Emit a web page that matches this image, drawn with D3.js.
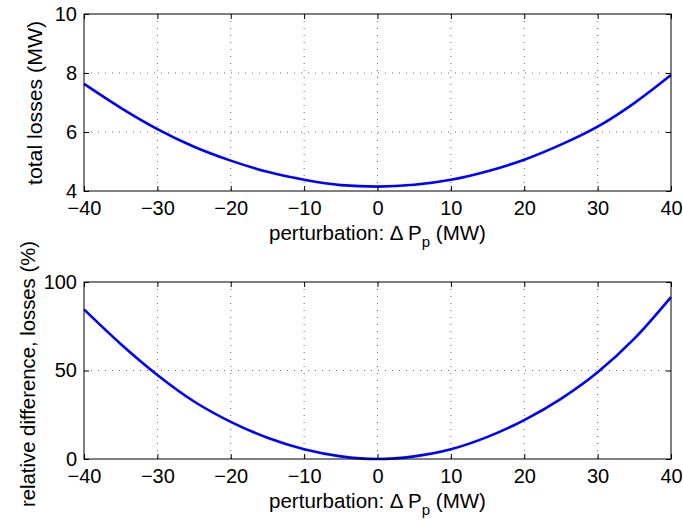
<!DOCTYPE html>
<html>
<head>
<meta charset="UTF-8">
<script src="https://d3js.org/d3.v7.min.js"></script>
<style>
    body { margin: 0; background: #fff; font-family: "Liberation Sans", Arial, sans-serif; }
    .tick text { font-size: 20px; fill: #000; font-family: "Liberation Sans", Arial, sans-serif; }
    .label { font-size: 20.5px; fill: #000; }
</style>
</head>
<body>
<svg id="chart"></svg>
<script>
    // perturbation values (MW)
    const perturbation = [-40, -35, -30, -25, -20, -15, -10, -5, 0, 5, 10, 15, 20, 25, 30, 35, 40];
    // total losses (MW)
    const totalLosses = [7.63, 6.82, 6.10, 5.50, 5.03, 4.65, 4.38, 4.20, 4.15, 4.21, 4.38, 4.67, 5.06, 5.57, 6.18, 6.98, 7.93];
    // relative difference of losses (%)
    const relDiff = [84.5, 65, 47.5, 32.5, 21, 12, 5.5, 1.5, 0, 1.5, 5.5, 12.5, 22, 34, 49, 68, 91.5];

    const xTicks = [-40, -30, -20, -10, 0, 10, 20, 30, 40];
    const topTicks = [4, 6, 8, 10];
    const bottomTicks = [0, 50, 100];

    const W = 683, H = 522;
    const svg = d3.select("#chart").attr("width", W).attr("height", H);

    const left = 84, right = 671;

    // один подграфик
    function panel(top, bottom, yDomain, yTicks, values, yLabel, lab) {
        const x = d3.scaleLinear().domain([-40, 40]).range([left, right]);
        const y = d3.scaleLinear().domain(yDomain).range([bottom, top]);
        const g = svg.append("g");

        // сетка
        g.selectAll(".vgrid")
            .data(xTicks.slice(1, -1))
            .join("line")
            .attr("x1", d => x(d)).attr("x2", d => x(d))
            .attr("y1", top).attr("y2", bottom)
            .attr("stroke", "#444").attr("stroke-width", 0.8)
            .attr("stroke-dasharray", "1,6");
        g.selectAll(".hgrid")
            .data(yTicks.slice(1, -1))
            .join("line")
            .attr("x1", left).attr("x2", right)
            .attr("y1", d => y(d)).attr("y2", d => y(d))
            .attr("stroke", "#444").attr("stroke-width", 0.8)
            .attr("stroke-dasharray", "1,6");

        // кривая
        const line = d3.line()
            .x((d, i) => x(perturbation[i]))
            .y(d => y(d))
            .curve(d3.curveMonotoneX);
        g.append("path")
            .datum(values)
            .attr("d", line)
            .attr("fill", "none")
            .attr("stroke", "#0000ff")
            .attr("stroke-width", 2.6);

        // оси (тики внутрь)
        const tl = 5;
        g.append("g").attr("transform", `translate(0,${bottom})`)
            .call(d3.axisBottom(x).tickValues(xTicks).tickSize(-tl).tickPadding(10).tickFormat(d => d < 0 ? "\u2212" + Math.abs(d) : d))
            .call(a => a.select(".domain").remove());
        g.append("g").attr("transform", `translate(0,${top})`)
            .call(d3.axisTop(x).tickValues(xTicks).tickSize(-tl).tickFormat(""))
            .call(a => a.select(".domain").remove());
        g.append("g").attr("transform", `translate(${left},0)`)
            .call(d3.axisLeft(y).tickValues(yTicks).tickSize(-tl).tickPadding(7).tickFormat(d3.format("d")))
            .call(a => a.select(".domain").remove());
        g.append("g").attr("transform", `translate(${right},0)`)
            .call(d3.axisRight(y).tickValues(yTicks).tickSize(-tl).tickFormat(""))
            .call(a => a.select(".domain").remove());
        g.selectAll(".tick line").attr("stroke", "#000");

        g.append("rect")
            .attr("x", left).attr("y", top)
            .attr("width", right - left).attr("height", bottom - top)
            .attr("fill", "none").attr("stroke", "#000").attr("stroke-width", 1);

        // подписи осей
        const xl = g.append("text").attr("class", "label")
            .attr("x", (left + right) / 2).attr("y", bottom + 49)
            .attr("text-anchor", "middle");
        xl.append("tspan").text("perturbation: \u0394 P");
        xl.append("tspan").attr("dy", 7).attr("font-size", "15px").text("p");
        xl.append("tspan").attr("dy", -7).text(" (MW)");

        g.append("text").attr("class", "label")
            .attr("transform", `translate(${lab.x},${lab.cy}) rotate(-90)`)
            .attr("text-anchor", "middle")
            .attr("textLength", lab.len)
            .attr("lengthAdjust", "spacingAndGlyphs")
            .text(yLabel);
    }

    panel(14, 191, [4, 10], topTicks, totalLosses, "total losses (MW)", {x: 42, cy: 103, len: 164});
    panel(282, 459, [0, 100], bottomTicks, relDiff, "relative difference, losses (%)", {x: 35, cy: 374, len: 266});
</script>
</body>
</html>
